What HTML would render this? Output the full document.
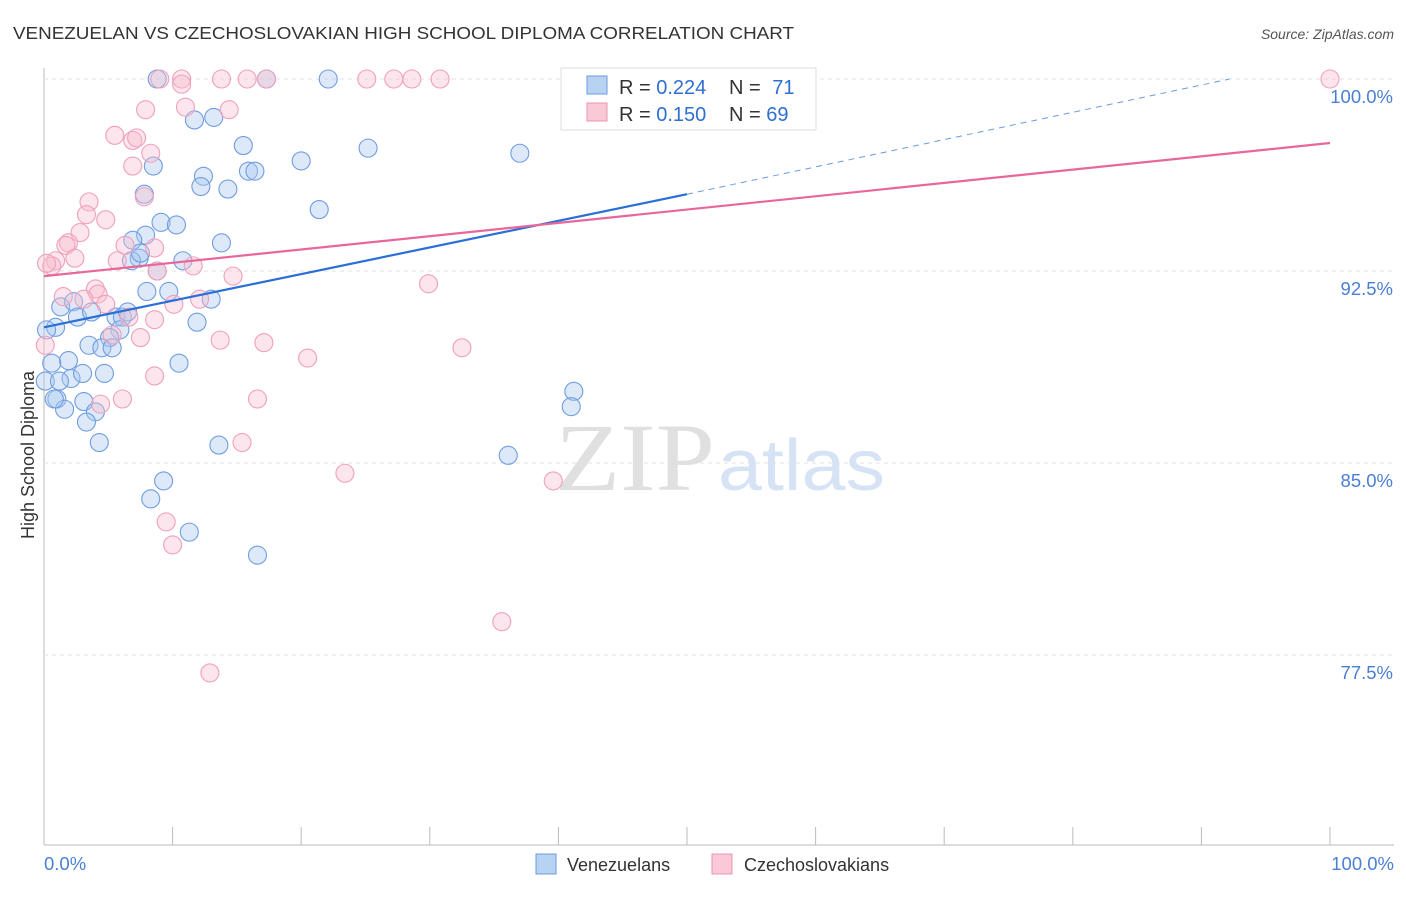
<!DOCTYPE html>
<html><head><meta charset="utf-8"><style>
body{margin:0;background:#fff;font-family:"Liberation Sans",sans-serif}
svg text{font-family:"Liberation Sans",sans-serif}
</style></head><body>
<svg id="c" width="1406" height="892">
<text x="13" y="39" font-size="17.5" fill="#333" textLength="781" lengthAdjust="spacingAndGlyphs">VENEZUELAN VS CZECHOSLOVAKIAN HIGH SCHOOL DIPLOMA CORRELATION CHART</text>
<text x="1394" y="39" font-size="14" fill="#555" font-style="italic" text-anchor="end">Source: ZipAtlas.com</text>
<text x="34" y="455" font-size="18" fill="#333" text-anchor="middle" transform="rotate(-90 34 455)">High School Diploma</text>
<text x="555" y="490" font-size="96" fill="#e0e0e0" font-family="Liberation Serif" textLength="160" lengthAdjust="spacingAndGlyphs" style="font-family:'Liberation Serif',serif">ZIP</text>
<text x="718" y="490" font-size="72" fill="#d6e3f5" textLength="167" lengthAdjust="spacingAndGlyphs">atlas</text>
<g id="grid"></g><g id="pts"></g><g id="lines"></g>
<g>
<rect x="561" y="68" width="255" height="62" fill="#fff" stroke="#ddd"/>
<rect x="587" y="76" width="20" height="18" fill="#b8d2f2" stroke="#6a9be0"/>
<rect x="587" y="103" width="20" height="18" fill="#f9c9d7" stroke="#ee93b0"/>
<text x="619" y="94" font-size="20" fill="#333">R = <tspan fill="#2f6fd0">0.224</tspan></text>
<text x="729" y="94" font-size="20" fill="#333">N = <tspan fill="#2f6fd0" dx="6">71</tspan></text>
<text x="619" y="121" font-size="20" fill="#333">R = <tspan fill="#2f6fd0">0.150</tspan></text>
<text x="729" y="121" font-size="20" fill="#333">N = <tspan fill="#2f6fd0">69</tspan></text>
</g>
<g>
<rect x="536" y="854" width="20" height="20" fill="#b8d2f2" stroke="#6a9be0"/>
<text x="567" y="871" font-size="18" fill="#333">Venezuelans</text>
<rect x="712" y="854" width="20" height="20" fill="#f9c9d7" stroke="#ee93b0"/>
<text x="744" y="871" font-size="18" fill="#333">Czechoslovakians</text>
</g>
</svg>
<script>
const yTicks=[100,92.5,85,77.5];
const yTickLabels=["100.0%","92.5%","85.0%","77.5%"];
const xTickLabels=["0.0%","100.0%"];
const blueX=[8.8,17.3,22.1,11.7,13.2,15.5,8.5,25.2,37.0,20.0,15.9,16.4,12.4,12.2,14.3,7.8,21.4,9.1,10.3,7.9,6.9,13.8,7.4,6.8,10.8,8.8,8.0,9.7,13.0,1.3,2.3,2.6,3.7,0.9,5.6,6.1,6.5,11.9,5.9,5.1,3.5,4.5,5.3,1.9,0.6,2.1,4.7,10.5,3.0,1.0,3.1,1.6,4.0,3.3,4.3,13.6,41.2,41.0,36.1,9.3,8.3,11.3,16.6,0.2,0.1,7.5,1.2,0.8];
const blueY=[100,100,100,98.4,98.5,97.4,96.6,97.3,97.1,96.8,96.4,96.4,96.2,95.8,95.7,95.5,94.9,94.4,94.3,93.9,93.7,93.6,93.0,92.9,92.9,92.5,91.7,91.7,91.4,91.1,91.3,90.7,90.9,90.3,90.7,90.7,90.9,90.5,90.2,89.9,89.6,89.5,89.5,89.0,88.9,88.3,88.5,88.9,88.5,87.5,87.4,87.1,87.0,86.6,85.8,85.7,87.8,87.2,85.3,84.3,83.6,82.3,81.4,90.2,88.2,93.2,88.2,87.5];
const pinkX=[9.0,10.7,10.7,13.8,15.8,25.1,27.2,28.6,30.8,17.3,100,7.9,11.0,14.4,5.5,6.9,7.2,8.3,6.9,7.8,3.5,3.3,4.8,2.8,1.9,1.7,6.3,8.6,0.9,0.6,2.4,0.2,5.7,8.8,11.6,14.7,29.9,1.5,4.0,4.2,3.1,4.8,10.1,12.1,8.6,6.6,5.3,7.5,13.7,17.1,20.5,32.5,0.1,8.6,4.4,6.1,16.6,15.4,23.4,39.6,9.5,10.0,35.6,12.9];
const pinkY=[100,100,99.8,100,100,100,100,100,100,100,100,98.8,98.9,98.8,97.8,97.6,97.7,97.1,96.6,95.4,95.2,94.7,94.5,94.0,93.6,93.5,93.5,93.4,92.9,92.7,93.0,92.8,92.9,92.5,92.7,92.3,92.0,91.5,91.8,91.6,91.4,91.2,91.2,91.4,90.6,90.7,90.0,89.9,89.8,89.7,89.1,89.5,89.6,88.4,87.3,87.5,87.5,85.8,84.6,84.3,82.7,81.8,78.8,76.8];
const blueTrend=[[0,90.3],[50,95.5]];
const blueDash=[[50,95.5],[92.2,100]];
const pinkTrend=[[0,92.3],[100,97.5]];
const NS="http://www.w3.org/2000/svg";
const X=v=>44+v*12.86, Y=v=>79+(100-v)*25.6;
function mk(t,a,p){const e=document.createElementNS(NS,t);for(const k in a)e.setAttribute(k,a[k]);p.appendChild(e);return e;}
const svg=document.getElementById('c'),grid=document.getElementById('grid'),pts=document.getElementById('pts'),lines=document.getElementById('lines');
let ax=mk('line',{x1:44,y1:68,x2:44,y2:845,stroke:'#bbb'},grid);


let bx=mk('line',{x1:44,y1:845,x2:1394,y2:845,stroke:'#bbb'},grid);


yTicks.forEach((v,i)=>{
 const g=mk('line',{x1:44,y1:Y(v),x2:1394,y2:Y(v),stroke:'#e2e2e2','stroke-dasharray':'4 4'},grid);
 
 
 const t=mk('text',{x:1393,y:Y(v)+24,'font-size':18.5,fill:'#4a7fd4','text-anchor':'end'},grid);t.textContent=yTickLabels[i];
 
 
});
for(let i=1;i<=10;i++){const x=44+i*128.6;const t=mk('line',{x1:x,y1:827,x2:x,y2:845,stroke:'#bbb'},grid);
 
 }
[[0,'start',44],[1,'end',1394]].forEach(([i,a,x])=>{const t=mk('text',{x:x,y:870,'font-size':18.5,fill:'#4a7fd4','text-anchor':a},grid);t.textContent=xTickLabels[i];
 
 });
blueX.forEach((v,i)=>{const c=mk('circle',{cx:X(v),cy:Y(blueY[i]),r:9,fill:'rgba(170,200,240,0.4)',stroke:'#6f9de0','stroke-width':1.1},pts);
 
 });
pinkX.forEach((v,i)=>{const c=mk('circle',{cx:X(v),cy:Y(pinkY[i]),r:9,fill:'rgba(248,190,208,0.4)',stroke:'#f0a0ba','stroke-width':1.1},pts);
 
 });
let l=mk('line',{x1:X(blueTrend[0][0]),y1:Y(blueTrend[0][1]),x2:X(blueTrend[1][0]),y2:Y(blueTrend[1][1]),stroke:'#2a6fd6','stroke-width':2.2},lines);


l=mk('line',{x1:X(blueDash[0][0]),y1:Y(blueDash[0][1]),x2:X(blueDash[1][0]),y2:Y(blueDash[1][1]),stroke:'#6a9be0','stroke-width':1,'stroke-dasharray':'6 5'},lines);


l=mk('line',{x1:X(pinkTrend[0][0]),y1:Y(pinkTrend[0][1]),x2:X(pinkTrend[1][0]),y2:Y(pinkTrend[1][1]),stroke:'#e8679a','stroke-width':2.2},lines);


</script>
</body></html>
